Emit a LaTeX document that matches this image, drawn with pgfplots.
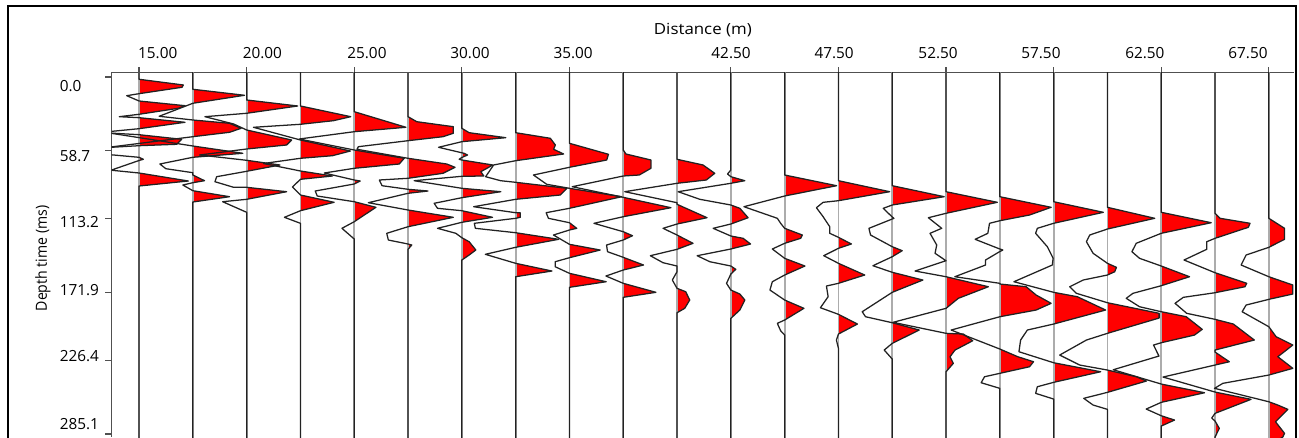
\documentclass[border=0pt]{standalone}
\usepackage{fontspec}
\usepackage{pgfplots}
\usepackage{pgfplotstable}
\pgfplotsset{compat=1.18}
\setmainfont{Open Sans}
\definecolor{traceline}{HTML}{222222}
\definecolor{axisline}{HTML}{505050}

% one trace: #1 = distance (m), #2 = rows "offset(px) time(px)"
\newcommand{\wiggle}[2]{%
  \pgfplotstableread[row sep=\\]{a y\\ #2\\}\tbl
  \addplot[draw=none,fill=red] table[x expr={#1+max(\thisrow{a},0)/21.52},y expr={(\thisrow{y}-77)/1.252}] {\tbl};
  \addplot[gray!65,line width=1.3pt] table[x expr={#1},y expr={(\thisrow{y}-77)/1.252}] {\tbl};
  \addplot[traceline,line width=0.95pt,line join=round] table[x expr={#1+\thisrow{a}/21.52},y expr={(\thisrow{y}-77)/1.252}] {\tbl};
}

\begin{document}
\begin{tikzpicture}
\begin{axis}[
  at={(0,0)},anchor=south west,
  scale only axis,width=886.7pt,height=273.4pt,
  xmin=13.731,xmax=68.67,ymin=-3.6,ymax=287.5,
  y dir=reverse,
  axis x line*=top,axis y line*=left,
  axis line style={-,axisline,line width=1pt},
  no markers,
  font=\fontsize{11.5}{14}\selectfont,
  tick align=outside,
  tick style={axisline,line width=0.9pt},
  major tick length=0pt,
  xtick={15.87,20.73,25.59,30.38,35.17,42.51,47.30,52.13,56.91,61.74,66.53},
  xticklabels={15.00,20.00,25.00,30.00,35.00,42.50,47.50,52.50,57.50,62.50,67.50},
  ytick={7.2,62.9,115.6,170.1,222.8,277.2},
  yticklabels={0.0,58.7,113.2,171.9,226.4,285.1},
  extra x ticks={15,20,25,30,35,42.5,47.5,52.5,57.5,62.5,67.5},
  extra x tick labels={},
  extra x tick style={major tick length=4pt},
  extra y ticks={0,58.7,113.2,171.9,226.4,285.1},
  extra y tick labels={},
  extra y tick style={major tick length=5pt},
  xticklabel style={yshift=7pt},
  yticklabel style={anchor=west,xshift=-42.5pt},
  xlabel={Distance (m)},
  ylabel={Depth time (ms)},
  xlabel style={yshift=-3.5pt,xscale=1.1},
  ylabel style={xscale=0.92,xshift=-3pt},
  ylabel shift=-5pt,
]
\wiggle{15}{0 72\\ 0 79.3\\ 44.3 85\\ 43 87.3\\ 0 93.7\\ -12.3 95.7\\ 0 101\\ 46 105.7\\ 39.3 108.3\\ 0 114.3\\ -19.7 116.7\\ 0 117.7\\ 46 122.3\\ 0 128.7\\ -39 132.5\\ 0 134.7\\ 42.7 139.3\\ 37.7 144.3\\ 0 145.7\\ -40 148\\ -40 153.7\\ 0 157.3\\ 4.3 159.3\\ 0 160.5\\ -28 170.2\\ 0 173\\ 49.3 181\\ 0 186\\ 0 440}
\wiggle{17.5}{0 72\\ 0 89.3\\ 51.7 95.3\\ 0 103.3\\ -33.7 116.3\\ 0 120\\ 36.7 123.3\\ 48.3 128.3\\ 36.7 132.3\\ 0 136.7\\ -90 148\\ -90 132\\ 0 146\\ 50 153.3\\ 0 157.3\\ -33 164\\ -27 168.7\\ 0 172.7\\ 0 175\\ 11.7 180.7\\ 0 182.7\\ -10 185\\ 0 190.7\\ 36.7 196.7\\ 0 202\\ 0 440}
\wiggle{20}{0 72\\ 0 100\\ 51 106\\ 0 113.3\\ -41.7 116.7\\ -13 124\\ 0 130\\ 45 140\\ 40 145\\ 0 149\\ -47 155\\ 0 160.3\\ 33.3 165\\ 0 171.3\\ -30 176.7\\ -31.7 181.7\\ -13 187.3\\ 0 187.3\\ 40 191.7\\ 0 199.3\\ -24 201.7\\ 0 212.3\\ 0 440}
\wiggle{22.5}{0 72\\ 0 106\\ 50.3 116.7\\ 33 120.7\\ 0 124.3\\ -47 127.3\\ 0 140\\ 50 151\\ 32 155.7\\ 0 158.3\\ -37 163.5\\ 0 171\\ 32 176\\ 0 179.3\\ -8 187\\ 0 195\\ 33.7 202.3\\ 0 210.7\\ -16 217.3\\ 0 223.3\\ 0 440}
\wiggle{25}{0 72\\ 0 111.7\\ 51.7 127.3\\ 0 131.7\\ -55 139\\ 0 150\\ 50 158.3\\ 45 164\\ 0 168.3\\ -30 173\\ 0 180\\ 6 181\\ 0 184\\ -39 191\\ -37 196\\ 0 201.7\\ 21.7 207.3\\ 0 221.7\\ -12.3 228.3\\ 0 239\\ 0 440}
\wiggle{27.5}{0 72\\ 0 116.7\\ 8.7 121.7\\ 45.3 126.7\\ 45.3 133.3\\ 35 136.7\\ 0 140.7\\ -49.7 146.7\\ -51 149.3\\ 0 158.3\\ 38.7 164\\ 47 167.3\\ 35 173.3\\ 0 178.3\\ -28.7 180\\ -26 185.7\\ 0 189.3\\ 20 191\\ 0 193.3\\ -39.7 202.7\\ 0 210\\ 45.3 217.3\\ 0 226.7\\ -21.3 233.3\\ -19.7 240\\ 0 244\\ 3.7 245\\ 0 249.3\\ 0 440}
\wiggle{30}{0 72\\ 0 128.3\\ 7.3 132.7\\ 44 137.7\\ 0 141.7\\ -23.3 147.3\\ 0 152.8\\ 2.3 153.3\\ 5.7 155\\ 0 157.5\\ -2.7 159.3\\ 0 160\\ 31 165\\ 19 171.7\\ 22 176\\ 0 176.3\\ -47.7 180.7\\ 0 188.3\\ 39 191.7\\ 0 197.7\\ -27.7 203.3\\ -24.3 208.3\\ 0 210.7\\ 30.7 217.3\\ 0 222.3\\ -24.3 228.3\\ -6 233.3\\ 0 237.7\\ 7.3 241.7\\ 14 250\\ 7.3 255\\ 0 260\\ 0 440}
\wiggle{32.5}{0 72\\ 0 132.7\\ 34.7 138.3\\ 39.7 145\\ 38 149.3\\ 48 154\\ 0 160.7\\ -22 165\\ -30 176.7\\ -15 180.7\\ 0 182.3\\ 51.3 188.3\\ 44.7 195\\ 0 199.3\\ -42 206.7\\ 0 212.7\\ 4.7 212.8\\ 4.7 217.3\\ 0 218.3\\ -41.3 223.3\\ -40.3 228.3\\ 0 232.7\\ 43 239.3\\ 0 247.3\\ -30.3 254.3\\ 0 263.3\\ 36.3 271\\ 0 276.7\\ 0 440}
\wiggle{35}{0 72\\ 0 143.3\\ 39 154.3\\ 37.3 160\\ 0 167.3\\ -36 175\\ -22.7 184.3\\ 0 188.3\\ 52.3 196.7\\ 0 208.3\\ -23.3 212.7\\ -21 218.3\\ 0 222.7\\ 7.3 228.3\\ 0 230\\ -16 235\\ 0 244.3\\ 30.7 250\\ 0 257.7\\ -14.3 261.7\\ -14.3 266.7\\ 0 273.3\\ 36.7 281.7\\ 0 287.3\\ 0 440}
\wiggle{37.5}{0 72\\ 0 150\\ 2.7 154\\ 27.7 160\\ 27.7 168.3\\ 16 175\\ 0 176\\ -51 186.7\\ 0 197.3\\ 47.7 207.7\\ 0 216.7\\ -29.3 223.3\\ 0 231.7\\ 9.3 235.7\\ 0 240\\ -16.7 245\\ -15.7 251.7\\ 0 257.3\\ 20.3 265\\ 0 270\\ -17.3 276\\ 0 283.3\\ 32.7 292.3\\ 0 297.3\\ 0 440}
\wiggle{40}{0 72\\ 0 159.3\\ 26 165\\ 37.7 173.3\\ 29.3 180\\ 0 183.3\\ -52.3 191.7\\ 0 202.7\\ 0 204.3\\ 30 217.7\\ 0 224\\ -14 228.3\\ 0 235\\ 16 243.3\\ 0 249.3\\ -26.7 255.7\\ -14 262.7\\ 0 266\\ 0 271.7\\ -4.7 280\\ 0 288.3\\ 8.7 291.7\\ 12.7 300\\ 7.7 308.3\\ 0 312.7\\ 0 440}
\wiggle{42.5}{0 72\\ 0 170\\ -3.3 174\\ 0 176.7\\ 14 180.7\\ 0 183.3\\ -52.7 191.7\\ -31 199.3\\ 0 205\\ 9 208.3\\ 17.3 217.7\\ 0 224\\ -17.7 228.3\\ 0 236\\ 12.3 238.3\\ 19.7 244\\ 0 249\\ -33.7 255.7\\ -21 261.7\\ 0 266\\ 5 269.3\\ 0 274\\ -4.3 283.3\\ 0 290\\ 9 294\\ 14 300\\ 9 310\\ 0 318.3\\ 0 440}
\wiggle{45}{0 72\\ 0 175\\ 52 185.7\\ 0 196\\ -40.7 206.7\\ -7.3 218.3\\ -4 223.3\\ 0 228.3\\ 17.7 235\\ 16 238.3\\ 0 243.3\\ -12.3 249\\ 0 258.3\\ 20.3 266\\ 0 275\\ -12.3 281.7\\ -14.7 290\\ 0 300\\ 19.3 308.3\\ 0 320\\ -7.3 323.3\\ -4 330.7\\ 0 335\\ 0 440}
\wiggle{47.5}{0 72\\ 0 180.7\\ 51.3 191.7\\ 0 200.7\\ -15.3 202.3\\ -22 207.7\\ -15.3 216.7\\ -8.7 226.7\\ -8.7 233.3\\ 0 237.3\\ 13 244\\ 0 248.3\\ -14.7 255.7\\ 0 263.3\\ 26.3 275\\ 0 283.3\\ -12 286\\ -10.3 296.7\\ -18 307.7\\ 0 314.3\\ 19 324\\ 0 334\\ -2 340\\ 0 348.3\\ 0 440}
\wiggle{50}{0 72\\ 0 185.7\\ 52 196.7\\ 0 205\\ -9 208.3\\ 0 217\\ 1.7 218.3\\ 0 219\\ -23.3 228.3\\ -21.7 235\\ 0 246.7\\ 10 250.7\\ 0 256.7\\ -19.3 265.7\\ 0 272.3\\ 30.7 280\\ 0 292.3\\ -30 311.7\\ -26.7 316.7\\ 0 322.7\\ 27 330\\ 0 343.3\\ -8 350\\ 0 359\\ 0 440}
\wiggle{52.5}{0 72\\ 0 191.7\\ 51.3 202.3\\ 0 213.3\\ -17.7 217.7\\ -4.3 228.3\\ -16 233.3\\ -9.3 245\\ -11 253.3\\ 0 260.7\\ -31 271\\ 0 276.7\\ 42.3 286.7\\ 12.3 298.3\\ 0 308.3\\ -53 322.3\\ 0 333.3\\ 17.3 334\\ 26.7 340.7\\ 9 350\\ 4 356.7\\ 7.3 363.3\\ 0 371.7\\ 0 440}
\wiggle{55}{0 72\\ 0 196.7\\ 51.3 207.3\\ 29.7 215\\ 0 220.7\\ -10.3 223.3\\ -12 233.3\\ -24.7 239.3\\ 0 249\\ 3 250\\ 0 251.5\\ -14.3 260\\ -14.3 265\\ -45 276.7\\ 0 283.3\\ 0 284\\ 26.3 286.7\\ 36.3 295\\ 51.3 303.3\\ 36.3 310\\ 0 316.7\\ -48.7 330\\ 0 349\\ 18 356.7\\ 33.7 361.7\\ 29.7 366.7\\ 0 373.3\\ -15.3 376.7\\ -18.7 382.7\\ 0 388.3\\ 0 440}
\wiggle{57.5}{0 72\\ 0 201.7\\ 49.7 212.3\\ 0 223.3\\ -16.3 228.3\\ -18 233.3\\ -6.3 246.7\\ -0.5 258.3\\ -1.3 265\\ -39.7 281.7\\ 0 292.3\\ 23.7 296.7\\ 52 310\\ 0 324\\ -26.3 330\\ -33 340\\ -34.7 351.7\\ 0 362.7\\ 47 371.7\\ 0 382.3\\ -16.3 386.7\\ -18 393.3\\ 0 399\\ 0 440}
\wiggle{60}{0 72\\ 0 207.3\\ 47.3 218.3\\ 0 229\\ -17.7 235\\ -21 241.7\\ -14.3 253.3\\ 0 263.3\\ 9 267.3\\ 7.3 271.7\\ 0 275\\ -24.3 280\\ -37.7 286.7\\ -31 293.3\\ 0 302.7\\ 51.7 313.3\\ 51.7 318\\ 0 333.3\\ -21 340\\ -47.7 355\\ -27.7 365\\ 0 370\\ 29 376.7\\ 39 381\\ 0 392.3\\ -23.7 398.3\\ -14.3 405\\ 0 409.3\\ 0 440}
\wiggle{62.5}{0 72\\ 0 212.3\\ 50 222.7\\ 0 233.3\\ -25 243.3\\ -29.3 251.7\\ -21.7 258.3\\ 0 266\\ 28.3 276.7\\ 0 285.7\\ -28.3 293.3\\ -35 298.3\\ -21.7 306.7\\ 0 311.7\\ 25 316.7\\ 41 329.3\\ 33.3 335\\ 0 342.7\\ -7.7 345\\ -2.3 356\\ -48 369.7\\ 0 384\\ 43.3 392.7\\ 0 402.3\\ -15 409\\ 0 415.7\\ 13.3 420\\ 0 426\\ 0 440}
\wiggle{65}{0 72\\ 0 213.3\\ 5 218.3\\ 35 223.3\\ 33.3 227.3\\ 0 238.3\\ -8.3 241.7\\ -8.3 249.3\\ -31 260\\ 0 272.7\\ 31.7 283.3\\ 30 286.7\\ 0 292.7\\ -31.7 297.3\\ -40 303.3\\ -28.3 313.3\\ 0 319.3\\ 18.3 324\\ 39.3 340\\ 0 350\\ 0 352\\ 14.3 361.7\\ 0 365\\ -52 377\\ 0 392\\ 36 399.3\\ 0 413.3\\ -3.3 418\\ 0 421\\ 4.3 428.3\\ 0 437\\ 0 440}
\wiggle{67.5}{0 72\\ 0 218.3\\ 15.7 228.3\\ 15.7 239.3\\ 0 247.3\\ -22.7 255\\ -27.7 265\\ 0 276.7\\ 24 285\\ 24 294\\ 0 299.3\\ -22.7 305\\ -26.7 311.7\\ 0 326.7\\ 7.3 336.7\\ 24 345\\ 9 356.7\\ 24 368.3\\ 0 375\\ -46 383.3\\ -54.3 388.3\\ 0 401.7\\ 9 405\\ 19 409.3\\ 6.7 421.7\\ 15.7 433.3\\ 14 437\\ 0 445}
\end{axis}
\draw[black,line width=1.5pt] (-77.8pt,-6pt) rectangle (887.9pt,323.25pt);
\pgfresetboundingbox
\path (-83.8pt,0pt) rectangle (890.45pt,327.75pt);
\end{tikzpicture}
\end{document}
